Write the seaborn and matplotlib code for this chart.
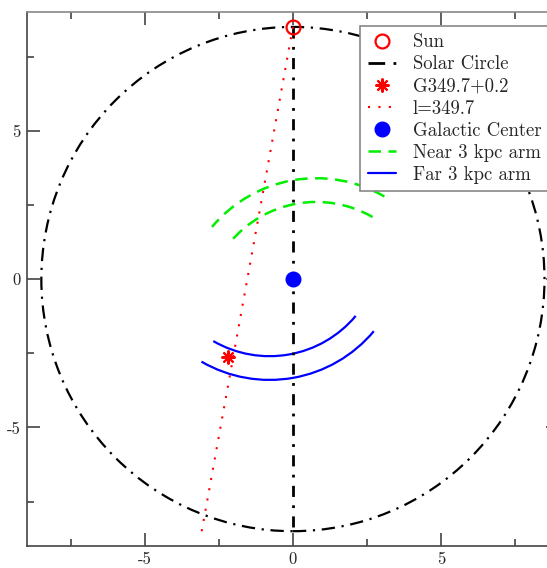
import numpy as np
import matplotlib
matplotlib.use("Agg")
import matplotlib.pyplot as plt
from matplotlib.patches import Circle, Arc
from matplotlib.lines import Line2D
import seaborn as sns

# values (kpc)
r_sun = 8.5
sun_x, sun_y = [0.0], [8.5]
gc_x, gc_y = [0.0], [0.0]
src_x, src_y = [-2.18], [-2.63]
los_x = [0.0, -3.1]
los_y = [8.5, -8.6]
axis_x = [0.0, 0.0]
axis_y = [8.5, -8.5]

# 3 kpc arm rings: centres, radii and angular extents (deg)
near_center = (0.79, -1.2)
far_center = (-0.79, 1.2)
arm_radii = [3.8, 4.6]
near_theta = (60, 140)
far_theta = (240, 320)

sns.set_style("ticks")
plt.rcParams['font.family'] = 'cmr10'
plt.rcParams['axes.unicode_minus'] = False
plt.rcParams['mathtext.fontset'] = 'cm'

fig = plt.figure(figsize=(5.47, 5.68), dpi=100)
ax = fig.add_axes([0.0485, 0.0387, 0.974, 0.940])

dashdot = (0, (6, 3, 1, 3))
green = '#00ee00'

# solar circle
ax.add_patch(Circle((0, 0), r_sun, fill=False, color='black', lw=1.6, ls=dashdot))
sns.lineplot(x=axis_x, y=axis_y, sort=False, estimator=None, ax=ax, color='black',
             lw=2.0, linestyle=(0, (4, 3, 1, 3)))

# line of sight
sns.lineplot(x=los_x, y=los_y, sort=False, estimator=None, ax=ax, color='red',
             lw=1.5, linestyle=(0, (1, 4)))

# 3 kpc arms
for r in arm_radii:
    ax.add_patch(Arc(near_center, 2 * r, 2 * r, theta1=near_theta[0], theta2=near_theta[1],
                     color=green, lw=1.8, ls=(0, (5, 3))))
    ax.add_patch(Arc(far_center, 2 * r, 2 * r, theta1=far_theta[0], theta2=far_theta[1],
                     color='blue', lw=1.6))

# markers
ax.plot(sun_x, sun_y, 'o', ms=10, mfc='none', mec='red', mew=1.6, ls='none')
ax.plot(src_x, src_y, marker=(8, 2, 0), ms=10, color='red', mew=1.5, ls='none')
ax.plot(gc_x, gc_y, 'o', ms=10.5, color='blue', ls='none')

ax.set_xlim(-9, 9)
ax.set_ylim(-9, 9)
ax.set_xticks([-5, 0, 5])
ax.set_yticks([-5, 0, 5])
ax.set_xticks([-7.5, -2.5, 2.5, 7.5], minor=True)
ax.set_yticks([-7.5, -2.5, 2.5, 7.5], minor=True)
ax.tick_params(which='both', direction='in', top=True, right=True, color='#444444',
               labelsize=12, width=1.2)
ax.tick_params(which='major', length=9.5)
ax.tick_params(which='minor', length=4.8)
ax.tick_params(axis='x', pad=4)
ax.tick_params(axis='y', pad=4)
for s in ax.spines.values():
    s.set_color('#444444')
    s.set_linewidth(1.2)
ax.spines['top'].set_color('#888888')

handles = [
    Line2D([], [], marker='o', ms=10, mfc='none', mec='red', mew=1.6, ls='none'),
    Line2D([], [], color='black', lw=2.0, ls=dashdot),
    Line2D([], [], marker=(8, 2, 0), ms=10, color='red', mew=1.5, ls='none'),
    Line2D([], [], color='red', lw=1.5, ls=(0, (1, 4))),
    Line2D([], [], marker='o', ms=10.5, color='blue', ls='none'),
    Line2D([], [], color=green, lw=1.8, ls=(0, (5, 3))),
    Line2D([], [], color='blue', lw=1.6),
]
labels = ['Sun', 'Solar Circle', 'G349.7+0.2', 'l=349.7', 'Galactic Center',
          'Near 3 kpc arm', 'Far 3 kpc arm']
leg = ax.legend(handles, labels, loc='upper left',
                bbox_to_anchor=(0.626, 0.974), borderaxespad=0, fontsize=13.5,
                handlelength=1.5, handletextpad=0.9, labelspacing=0.22,
                borderpad=0.4, fancybox=False, framealpha=1, edgecolor='#888888')
leg.get_frame().set_linewidth(1.2)

fig.savefig('out.png', dpi=100)
